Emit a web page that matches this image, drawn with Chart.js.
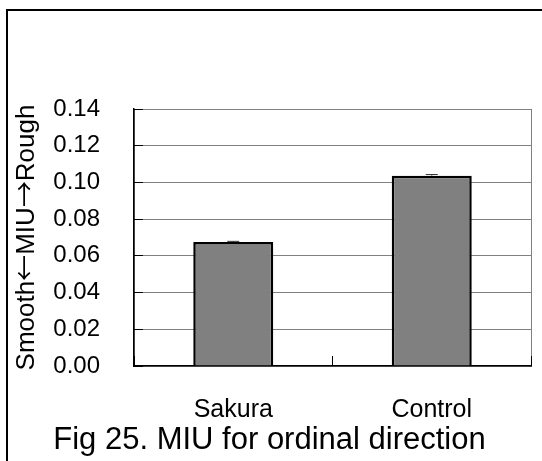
<!DOCTYPE html>
<html lang="en">
  <head>
    <meta charset="UTF-8" />
    <title>Fig 25. MIU for ordinal direction</title>
    <script src="https://cdn.jsdelivr.net/npm/chart.js@4.4.0/dist/chart.umd.min.js"></script>
    <style>
      /* full width arrows like the original, rest stays Liberation Sans */
      @font-face {
        font-family: 'CJKArrows';
        src: local('Noto Sans CJK JP Regular'), local('NotoSansCJKjp-Regular'), local('Noto Sans CJK JP');
        unicode-range: U+2190-2193;
      }
      body { margin: 0; background: #fff; }
      #frame { position: absolute; left: 6px; top: 9px; width: 540px; height: 460px;
               border-left: 2px solid #000; border-top: 2px solid #000; }
      #wrap { position: absolute; left: 0; top: 0; width: 542px; height: 461px; }
    </style>
  </head>
  <body>
    <div id="frame"></div>
    <div id="wrap"><canvas id="myChart"></canvas></div>

    <script>
      // values
      const categories = ['Sakura', 'Control'];
      const miuValues = [0.0675, 0.1037];
      const miuErrors = [0.0004, 0.0006];
      const yTicks = [0, 0.02, 0.04, 0.06, 0.08, 0.10, 0.12, 0.14];

      const fontFamily = "'Liberation Sans', Arial, sans-serif";
      let myChart;

      const errorBars = {
        id: 'errorBars',
        afterDatasetsDraw(chart) {
          const ctx = chart.ctx;
          const y = chart.scales.y;
          const meta = chart.getDatasetMeta(0);
          ctx.save();
          ctx.strokeStyle = '#333';
          ctx.lineWidth = 1;
          meta.data.forEach((bar, i) => {
            const top = y.getPixelForValue(miuValues[i] + miuErrors[i]);
            const base = y.getPixelForValue(miuValues[i]);
            ctx.beginPath();
            ctx.moveTo(bar.x, base);
            ctx.lineTo(bar.x, top);
            ctx.moveTo(bar.x - 6, top);
            ctx.lineTo(bar.x + 6, top);
            ctx.stroke();
          });
          ctx.restore();
        }
      };

      function setupChart() {
        const ctx = document.getElementById('myChart').getContext('2d');
        myChart = new Chart(ctx, {
          type: 'bar',
          data: {
            labels: categories,
            datasets: [{
              data: miuValues,
              backgroundColor: '#808080',
              borderColor: '#000',
              borderWidth: 2.5,
              categoryPercentage: 1,
              barPercentage: 0.403
            }]
          },
          options: {
            responsive: true,
            maintainAspectRatio: false,
            animation: false,
            layout: { padding: { left: 8, right: 11, top: 109, bottom: 2.4 } },
            plugins: {
              legend: { display: false },
              tooltip: { enabled: false },
              title: {
                display: true,
                position: 'bottom',
                text: 'Fig 25. MIU for ordinal direction',
                color: '#000',
                font: { family: fontFamily, size: 31, weight: 'normal', lineHeight: 1.2 },
                padding: 0
              }
            },
            scales: {
              x: {
                offset: true,
                afterFit: axis => { axis.height = 55.4; },
                grid: {
                  offset: true,
                  color: c => c.index === 1 ? 'rgba(0,0,0,0)' : '#808080',
                  tickColor: '#000',
                  tickLength: -10
                },
                border: { color: '#000', width: 1.5 },
                ticks: {
                  color: '#000',
                  padding: 39,
                  font: { family: fontFamily, size: 25, lineHeight: 1.2 }
                }
              },
              y: {
                min: 0,
                max: 0.14,
                afterBuildTicks: axis => { axis.ticks = yTicks.map(v => ({ value: v })); },
                afterFit: axis => { axis.width = 126; },
                grid: { color: '#808080', tickColor: '#000', tickLength: -9 },
                border: { color: '#000', width: 1.5 },
                ticks: {
                  color: '#000',
                  padding: 43,
                  font: { family: fontFamily, size: 24 },
                  callback: v => Number(v).toFixed(2)
                },
                title: {
                  display: true,
                  text: 'Smooth←MIU→Rough',
                  color: '#000',
                  font: { family: "'CJKArrows', " + fontFamily, size: 26, lineHeight: 1.2 },
                  padding: { top: 3, bottom: 0 }
                }
              }
            }
          },
          plugins: [errorBars]
        });
      }

      document.fonts.load("26px CJKArrows", "←→").then(setupChart, setupChart);
    </script>
  </body>
</html>
